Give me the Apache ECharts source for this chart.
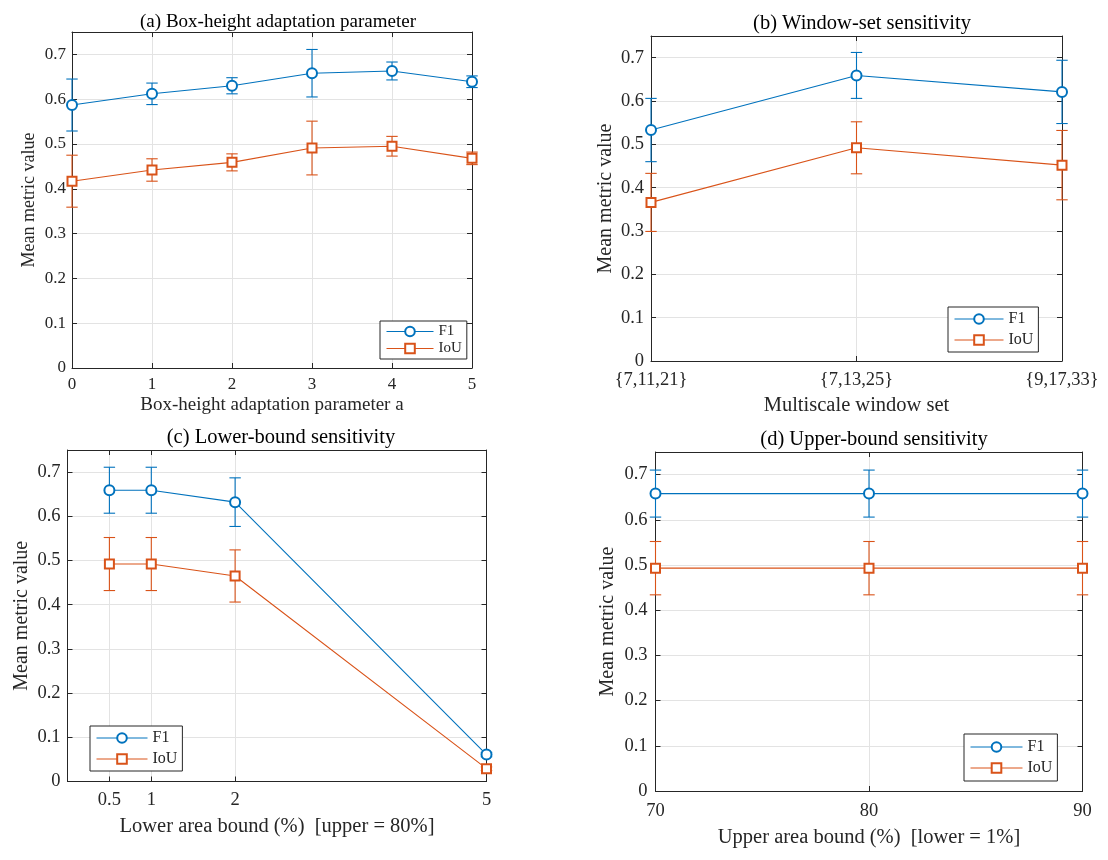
<!DOCTYPE html>
<html>
<head>
<meta charset="utf-8">
<script src="https://cdn.jsdelivr.net/npm/echarts@6/dist/echarts.min.js"></script>
<style>html,body{margin:0;padding:0;background:#fff;}#c{width:1108px;height:860px;}</style>
</head>
<body>
<div id="c"></div>
<script>
// ---- data ----
const aX = [0, 1, 2, 3, 4, 5];
const aF1 = [0.587, 0.612, 0.630, 0.658, 0.663, 0.639];
const aF1Err = [0.058, 0.024, 0.018, 0.053, 0.020, 0.013];
const aIoU = [0.417, 0.442, 0.459, 0.491, 0.495, 0.468];
const aIoUErr = [0.058, 0.025, 0.019, 0.060, 0.022, 0.014];

const bCats = ['{7,11,21}', '{7,13,25}', '{9,17,33}'];
const bF1 = [0.533, 0.659, 0.621];
const bF1Err = [0.073, 0.053, 0.073];
const bIoU = [0.366, 0.492, 0.452];
const bIoUErr = [0.067, 0.060, 0.080];

const cX = [0.5, 1, 2, 5];
const cTicks = [0.5, 1, 2, 5];
const cF1 = [0.659, 0.659, 0.632, 0.061];
const cF1Err = [0.052, 0.052, 0.055, 0.005];
const cIoU = [0.492, 0.492, 0.465, 0.029];
const cIoUErr = [0.060, 0.060, 0.059, 0.004];

const dX = [70, 80, 90];
const dF1 = [0.658, 0.658, 0.658];
const dF1Err = [0.052, 0.052, 0.052];
const dIoU = [0.493, 0.493, 0.493];
const dIoUErr = [0.059, 0.059, 0.059];

const titles = ['(a) Box-height adaptation parameter', '(b) Window-set sensitivity',
                '(c) Lower-bound sensitivity', '(d) Upper-bound sensitivity'];
const xNames = ['Box-height adaptation parameter a', 'Multiscale window set',
                'Lower area bound (%)  [upper = 80%]', 'Upper area bound (%)  [lower = 1%]'];
const yName = 'Mean metric value';
const seriesNames = ['F1', 'IoU'];

// ---- styling ----
const FONT = '"Liberation Serif", "Times New Roman", serif';
const BLUE = '#0072BD';
const RED = '#D95319';
const AX = '#262626';
const GRIDC = '#e3e3e3';

const panels = [
  {grid:{left:72, top:32, width:400, height:336}, xs:aX, f1:aF1, f1e:aF1Err, iou:aIoU, iouE:aIoUErr,
   xAxis:{type:'value', min:0, max:5, interval:1}, title:{x:273, y:8, fs:19},
   fs:17, xNameFs:19, yNameFs:18, xGap:28, yGap:34, xMargin:8, yMargin:6,
   legend:{left:380, top:321, fs:15, pad:[3,5,3,6], gap:2, iw:47}},
  {grid:{left:651, top:36, width:411, height:325}, xs:[0,1,2], f1:bF1, f1e:bF1Err, iou:bIoU, iouE:bIoUErr,
   xAxis:{type:'category', data:bCats, boundaryGap:false}, title:{x:857, y:8, fs:20.5},
   fs:18.5, xNameFs:20.5, yNameFs:20, xGap:34, yGap:35, xMargin:10, yMargin:7,
   legend:{left:948, top:307, fs:16, pad:[4,5,4,6], gap:5, iw:49}},
  {grid:{left:67.5, top:450, width:419, height:331.5}, xs:cX, f1:cF1, f1e:cF1Err, iou:cIoU, iouE:cIoUErr,
   xAxis:{type:'value', min:0, max:5, custom:cTicks}, title:{x:276, y:422, fs:20.5},
   fs:18.5, xNameFs:20.5, yNameFs:20, xGap:35, yGap:36, xMargin:9, yMargin:7,
   legend:{left:90, top:726, fs:16, pad:[4,5,4,6], gap:5, iw:51}},
  {grid:{left:655.5, top:452, width:427, height:339}, xs:dX, f1:dF1, f1e:dF1Err, iou:dIoU, iouE:dIoUErr,
   xAxis:{type:'value', min:70, max:90, interval:10}, title:{x:869, y:424, fs:20.5},
   fs:18.5, xNameFs:20.5, yNameFs:20, xGap:36, yGap:38, xMargin:11, yMargin:8,
   legend:{left:964, top:734, fs:16, pad:[5,5,5,6], gap:5, iw:52}}
];

const option = {
  backgroundColor:'#fff',
  animation:false,
  title:[], grid:[], xAxis:[], yAxis:[], legend:[], series:[]
};

function errRender(color){
  return function(params, api){
    const x = api.value(0);
    const lo = api.coord([x, api.value(2)]);
    const hi = api.coord([x, api.value(3)]);
    const w = 5.7;
    const st = {stroke:color, lineWidth:1.1};
    return {type:'group', children:[
      {type:'line', shape:{x1:lo[0], y1:lo[1], x2:hi[0], y2:hi[1]}, style:st},
      {type:'line', shape:{x1:lo[0]-w, y1:lo[1], x2:lo[0]+w, y2:lo[1]}, style:st},
      {type:'line', shape:{x1:hi[0]-w, y1:hi[1], x2:hi[0]+w, y2:hi[1]}, style:st}
    ]};
  };
}

panels.forEach((p, i) => {
  option.title.push({text:titles[i], left:p.title.x, top:p.title.y, textAlign:'center',
    textStyle:{fontFamily:FONT, fontSize:p.title.fs, fontWeight:'normal', color:'#000'}});
  option.grid.push(Object.assign({show:false}, p.grid));

  const tickStyle = {show:true, inside:true, length:5, lineStyle:{color:AX, width:1}};
  const lineStyle = {show:true, onZero:false, lineStyle:{color:AX, width:1}};
  const labelStyle = {color:AX, fontFamily:FONT, fontSize:p.fs};

  const xb = {gridIndex:i, position:'bottom', name:xNames[i], nameLocation:'middle', nameGap:p.xGap,
    nameTextStyle:{fontFamily:FONT, fontSize:p.xNameFs, color:AX},
    axisLine:lineStyle, axisTick:Object.assign({}, tickStyle), axisLabel:Object.assign({margin:p.xMargin}, labelStyle),
    splitLine:{show:true, lineStyle:{color:GRIDC, width:1}}};
  const xt = {gridIndex:i, position:'top', axisLine:lineStyle, axisTick:Object.assign({}, tickStyle),
    axisLabel:{show:false}, splitLine:{show:false}};
  [xb, xt].forEach(ax => {
    ax.type = p.xAxis.type;
    if (p.xAxis.type === 'category') {
      ax.data = p.xAxis.data; ax.boundaryGap = false;
      ax.axisTick.alignWithLabel = true;
      ax.axisTick.interval = 0;
    } else {
      ax.min = p.xAxis.min; ax.max = p.xAxis.max;
      if (p.xAxis.interval) ax.interval = p.xAxis.interval;
      if (p.xAxis.custom) {
        ax.axisTick.customValues = p.xAxis.custom;
        if (ax.axisLabel.show !== false) ax.axisLabel.customValues = p.xAxis.custom;
      }
    }
  });
  option.xAxis.push(xb, xt);

  const yl = {gridIndex:i, type:'value', position:'left', min:0, max:0.75, interval:0.1,
    name:yName, nameLocation:'middle', nameGap:p.yGap, nameRotate:90,
    nameTextStyle:{fontFamily:FONT, fontSize:p.yNameFs, color:AX},
    axisLine:lineStyle, axisTick:tickStyle, axisLabel:Object.assign({margin:p.yMargin, showMaxLabel:false}, labelStyle),
    splitLine:{show:true, lineStyle:{color:GRIDC, width:1}}};
  const yr = {gridIndex:i, type:'value', position:'right', min:0, max:0.75, interval:0.1,
    axisLine:lineStyle, axisTick:tickStyle, axisLabel:{show:false}, splitLine:{show:false}};
  option.yAxis.push(yl, yr);

  const xi = 2*i, yi = 2*i;
  const defs = [
    {name:seriesNames[0], vals:p.f1, errs:p.f1e, color:BLUE, symbol:'emptyCircle', size:10},
    {name:seriesNames[1], vals:p.iou, errs:p.iouE, color:RED, symbol:'emptyRect', size:9}
  ];
  defs.forEach(d => {
    option.series.push({
      type:'custom', name:d.name + ' error', xAxisIndex:xi, yAxisIndex:yi, z:2,
      renderItem:errRender(d.color),
      data:p.xs.map((x, k) => [x, d.vals[k], d.vals[k]-d.errs[k], d.vals[k]+d.errs[k]]),
      encode:{x:0, y:[1,2,3]}, silent:true
    });
    option.series.push({
      type:'line', name:d.name, xAxisIndex:xi, yAxisIndex:yi, z:3,
      data:p.xs.map((x, k) => [x, d.vals[k]]),
      symbol:d.symbol, symbolSize:d.size, showAllSymbol:true,
      lineStyle:{color:d.color, width:1.1}, itemStyle:{color:d.color, borderColor:d.color, borderWidth:1.1},
      clip:false
    });
  });

  option.legend.push({
    data:seriesNames, orient:'vertical', left:p.legend.left, top:p.legend.top,
    itemWidth:p.legend.iw, itemHeight:12, itemGap:p.legend.gap, padding:p.legend.pad,
    borderColor:AX, borderWidth:1, backgroundColor:'#fff', borderRadius:0,
    lineStyle:{width:1}, itemStyle:{borderWidth:1},
    textStyle:{fontFamily:FONT, fontSize:p.legend.fs, color:AX}, selectedMode:false
  });
});

const chart = echarts.init(document.getElementById('c'), null, {renderer:'canvas'});
chart.setOption(option);
</script>
</body>
</html>
